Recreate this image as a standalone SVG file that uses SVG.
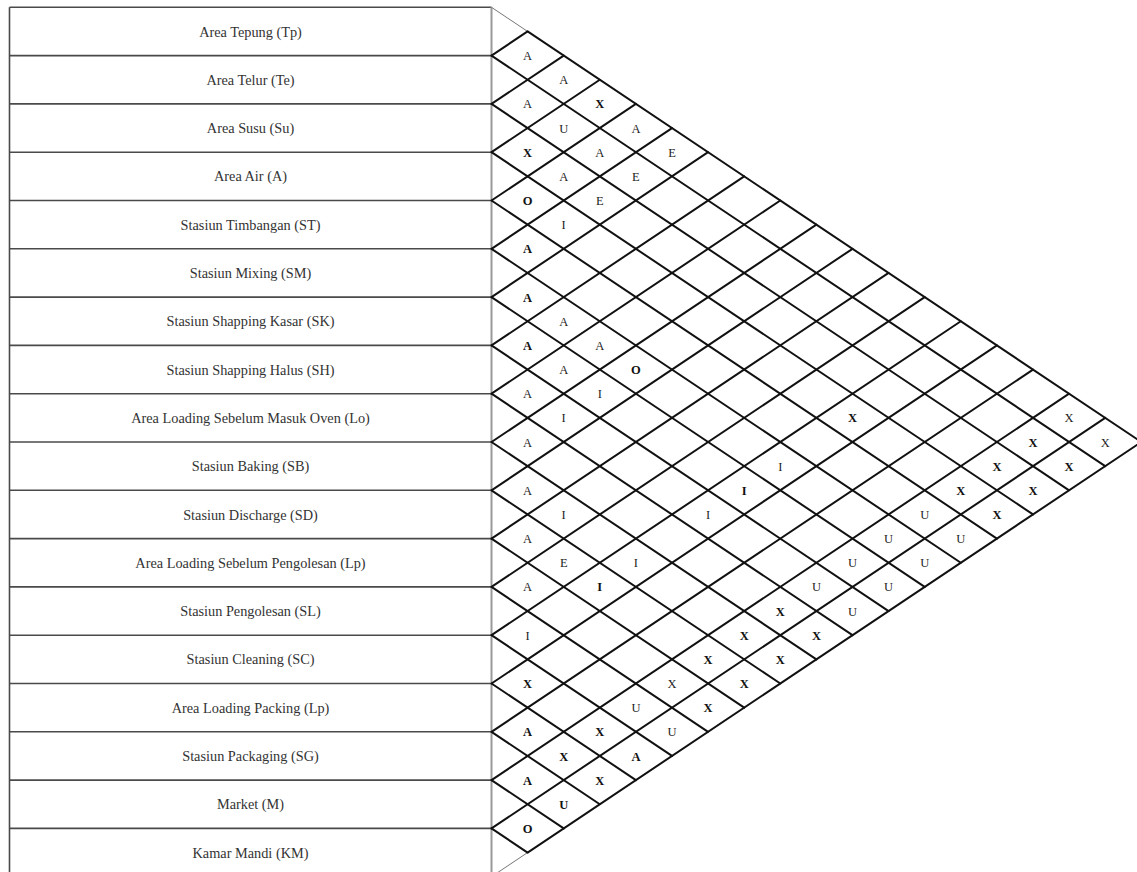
<svg xmlns="http://www.w3.org/2000/svg" width="1137" height="872" viewBox="0 0 1137 872">
<style>
.tbl{stroke:#4a4a4a;stroke-width:1.6;fill:none}
.edge{stroke:#9a9a9a;stroke-width:2;fill:none}
.g{stroke:#111;stroke-width:2;fill:none;stroke-linecap:round}
.thin{stroke:#777;stroke-width:1;fill:none}
.lbl{font-family:"Liberation Serif","Times New Roman",serif;font-size:14.3px;fill:#333;text-anchor:middle}
.c{font-family:"Liberation Serif","Times New Roman",serif;font-size:12.5px;fill:#222;text-anchor:middle}
.b{font-weight:bold;fill:#111}
</style>
<rect width="1137" height="872" fill="#fff"/>
<g id="table">
<line class="tbl" x1="9.5" y1="7.3" x2="9.5" y2="876.7"/>
<line class="tbl" x1="9.5" y1="7.3" x2="491.5" y2="7.3"/>
<line class="tbl" x1="9.5" y1="55.6" x2="491.5" y2="55.6"/>
<line class="tbl" x1="9.5" y1="103.9" x2="491.5" y2="103.9"/>
<line class="tbl" x1="9.5" y1="152.2" x2="491.5" y2="152.2"/>
<line class="tbl" x1="9.5" y1="200.5" x2="491.5" y2="200.5"/>
<line class="tbl" x1="9.5" y1="248.8" x2="491.5" y2="248.8"/>
<line class="tbl" x1="9.5" y1="297.1" x2="491.5" y2="297.1"/>
<line class="tbl" x1="9.5" y1="345.4" x2="491.5" y2="345.4"/>
<line class="tbl" x1="9.5" y1="393.7" x2="491.5" y2="393.7"/>
<line class="tbl" x1="9.5" y1="442" x2="491.5" y2="442"/>
<line class="tbl" x1="9.5" y1="490.3" x2="491.5" y2="490.3"/>
<line class="tbl" x1="9.5" y1="538.6" x2="491.5" y2="538.6"/>
<line class="tbl" x1="9.5" y1="586.9" x2="491.5" y2="586.9"/>
<line class="tbl" x1="9.5" y1="635.2" x2="491.5" y2="635.2"/>
<line class="tbl" x1="9.5" y1="683.5" x2="491.5" y2="683.5"/>
<line class="tbl" x1="9.5" y1="731.8" x2="491.5" y2="731.8"/>
<line class="tbl" x1="9.5" y1="780.1" x2="491.5" y2="780.1"/>
<line class="tbl" x1="9.5" y1="828.4" x2="491.5" y2="828.4"/>
<line class="edge" x1="491.5" y1="7.3" x2="491.5" y2="876.7"/>
</g>
<g id="n0"><text class="lbl" x="250.5" y="36.5">Area Tepung (Tp)</text></g>
<g id="n1"><text class="lbl" x="250.5" y="84.8">Area Telur (Te)</text></g>
<g id="n2"><text class="lbl" x="250.5" y="133.1">Area Susu (Su)</text></g>
<g id="n3"><text class="lbl" x="250.5" y="181.4">Area Air (A)</text></g>
<g id="n4"><text class="lbl" x="250.5" y="229.7">Stasiun Timbangan (ST)</text></g>
<g id="n5"><text class="lbl" x="250.5" y="278">Stasiun Mixing (SM)</text></g>
<g id="n6"><text class="lbl" x="250.5" y="326.3">Stasiun Shapping Kasar (SK)</text></g>
<g id="n7"><text class="lbl" x="250.5" y="374.6">Stasiun Shapping Halus (SH)</text></g>
<g id="n8"><text class="lbl" x="250.5" y="422.9">Area Loading Sebelum Masuk Oven (Lo)</text></g>
<g id="n9"><text class="lbl" x="250.5" y="471.2">Stasiun Baking (SB)</text></g>
<g id="n10"><text class="lbl" x="250.5" y="519.5">Stasiun Discharge (SD)</text></g>
<g id="n11"><text class="lbl" x="250.5" y="567.8">Area Loading Sebelum Pengolesan (Lp)</text></g>
<g id="n12"><text class="lbl" x="250.5" y="616.1">Stasiun Pengolesan (SL)</text></g>
<g id="n13"><text class="lbl" x="250.5" y="664.4">Stasiun Cleaning (SC)</text></g>
<g id="n14"><text class="lbl" x="250.5" y="712.7">Area Loading Packing (Lp)</text></g>
<g id="n15"><text class="lbl" x="250.5" y="761">Stasiun Packaging (SG)</text></g>
<g id="n16"><text class="lbl" x="250.5" y="809.3">Market (M)</text></g>
<g id="n17"><text class="lbl" x="250.5" y="857.6">Kamar Mandi (KM)</text></g>
<g id="connectors">
<line class="thin" x1="491.5" y1="7.3" x2="527.6" y2="31.45"/>
<line class="thin" x1="491.5" y1="876.7" x2="527.6" y2="852.55"/>
<line class="g" x1="527.6" y1="31.45" x2="1141.3" y2="442"/>
<line class="g" x1="527.6" y1="852.55" x2="1141.3" y2="442"/>
<line class="g" x1="491.5" y1="55.6" x2="1105.2" y2="466.15"/>
<line class="g" x1="491.5" y1="103.9" x2="1069.1" y2="490.3"/>
<line class="g" x1="491.5" y1="152.2" x2="1033" y2="514.45"/>
<line class="g" x1="491.5" y1="200.5" x2="996.9" y2="538.6"/>
<line class="g" x1="491.5" y1="248.8" x2="960.8" y2="562.75"/>
<line class="g" x1="491.5" y1="297.1" x2="924.7" y2="586.9"/>
<line class="g" x1="491.5" y1="345.4" x2="888.6" y2="611.05"/>
<line class="g" x1="491.5" y1="393.7" x2="852.5" y2="635.2"/>
<line class="g" x1="491.5" y1="442" x2="816.4" y2="659.35"/>
<line class="g" x1="491.5" y1="490.3" x2="780.3" y2="683.5"/>
<line class="g" x1="491.5" y1="538.6" x2="744.2" y2="707.65"/>
<line class="g" x1="491.5" y1="586.9" x2="708.1" y2="731.8"/>
<line class="g" x1="491.5" y1="635.2" x2="672" y2="755.95"/>
<line class="g" x1="491.5" y1="683.5" x2="635.9" y2="780.1"/>
<line class="g" x1="491.5" y1="731.8" x2="599.8" y2="804.25"/>
<line class="g" x1="491.5" y1="780.1" x2="563.7" y2="828.4"/>
<line class="g" x1="491.5" y1="828.4" x2="527.6" y2="852.55"/>
<line class="g" x1="491.5" y1="55.6" x2="527.6" y2="31.45"/>
<line class="g" x1="491.5" y1="103.9" x2="563.7" y2="55.6"/>
<line class="g" x1="491.5" y1="152.2" x2="599.8" y2="79.75"/>
<line class="g" x1="491.5" y1="200.5" x2="635.9" y2="103.9"/>
<line class="g" x1="491.5" y1="248.8" x2="672" y2="128.05"/>
<line class="g" x1="491.5" y1="297.1" x2="708.1" y2="152.2"/>
<line class="g" x1="491.5" y1="345.4" x2="744.2" y2="176.35"/>
<line class="g" x1="491.5" y1="393.7" x2="780.3" y2="200.5"/>
<line class="g" x1="491.5" y1="442" x2="816.4" y2="224.65"/>
<line class="g" x1="491.5" y1="490.3" x2="852.5" y2="248.8"/>
<line class="g" x1="491.5" y1="538.6" x2="888.6" y2="272.95"/>
<line class="g" x1="491.5" y1="586.9" x2="924.7" y2="297.1"/>
<line class="g" x1="491.5" y1="635.2" x2="960.8" y2="321.25"/>
<line class="g" x1="491.5" y1="683.5" x2="996.9" y2="345.4"/>
<line class="g" x1="491.5" y1="731.8" x2="1033" y2="369.55"/>
<line class="g" x1="491.5" y1="780.1" x2="1069.1" y2="393.7"/>
<line class="g" x1="491.5" y1="828.4" x2="1105.2" y2="417.85"/>
</g>
<g id="cells">
<text class="c" x="527.6" y="60.1">A</text>
<text class="c" x="563.7" y="84.3">A</text>
<text class="c" x="527.6" y="108.4">A</text>
<text class="c b" x="599.8" y="108.4">X</text>
<text class="c" x="563.7" y="132.6">U</text>
<text class="c" x="635.9" y="132.6">A</text>
<text class="c b" x="527.6" y="156.7">X</text>
<text class="c" x="599.8" y="156.7">A</text>
<text class="c" x="672" y="156.7">E</text>
<text class="c" x="563.7" y="180.9">A</text>
<text class="c" x="635.9" y="180.9">E</text>
<text class="c b" x="527.6" y="205">O</text>
<text class="c" x="599.8" y="205">E</text>
<text class="c" x="563.7" y="229.2">I</text>
<text class="c b" x="527.6" y="253.3">A</text>
<text class="c b" x="527.6" y="301.6">A</text>
<text class="c" x="563.7" y="325.8">A</text>
<text class="c b" x="527.6" y="349.9">A</text>
<text class="c" x="599.8" y="349.9">A</text>
<text class="c" x="563.7" y="374.1">A</text>
<text class="c b" x="635.9" y="374.1">O</text>
<text class="c" x="527.6" y="398.2">A</text>
<text class="c" x="599.8" y="398.2">I</text>
<text class="c" x="563.7" y="422.4">I</text>
<text class="c b" x="852.5" y="422.4">X</text>
<text class="c" x="1069.1" y="422.4">X</text>
<text class="c" x="527.6" y="446.5">A</text>
<text class="c b" x="1033" y="446.5">X</text>
<text class="c" x="1105.2" y="446.5">X</text>
<text class="c" x="780.3" y="470.7">I</text>
<text class="c b" x="996.9" y="470.7">X</text>
<text class="c b" x="1069.1" y="470.7">X</text>
<text class="c" x="527.6" y="494.8">A</text>
<text class="c b" x="744.2" y="494.8">I</text>
<text class="c b" x="960.8" y="494.8">X</text>
<text class="c b" x="1033" y="494.8">X</text>
<text class="c" x="563.7" y="519">I</text>
<text class="c" x="708.1" y="519">I</text>
<text class="c" x="924.7" y="519">U</text>
<text class="c b" x="996.9" y="519">X</text>
<text class="c" x="527.6" y="543.1">A</text>
<text class="c" x="888.6" y="543.1">U</text>
<text class="c" x="960.8" y="543.1">U</text>
<text class="c" x="563.7" y="567.3">E</text>
<text class="c" x="635.9" y="567.3">I</text>
<text class="c" x="852.5" y="567.3">U</text>
<text class="c" x="924.7" y="567.3">U</text>
<text class="c" x="527.6" y="591.4">A</text>
<text class="c b" x="599.8" y="591.4">I</text>
<text class="c" x="816.4" y="591.4">U</text>
<text class="c" x="888.6" y="591.4">U</text>
<text class="c b" x="780.3" y="615.6">X</text>
<text class="c" x="852.5" y="615.6">U</text>
<text class="c" x="527.6" y="639.7">I</text>
<text class="c b" x="744.2" y="639.7">X</text>
<text class="c b" x="816.4" y="639.7">X</text>
<text class="c b" x="708.1" y="663.9">X</text>
<text class="c b" x="780.3" y="663.9">X</text>
<text class="c b" x="527.6" y="688">X</text>
<text class="c" x="672" y="688">X</text>
<text class="c b" x="744.2" y="688">X</text>
<text class="c" x="635.9" y="712.2">U</text>
<text class="c b" x="708.1" y="712.2">X</text>
<text class="c b" x="527.6" y="736.3">A</text>
<text class="c b" x="599.8" y="736.3">X</text>
<text class="c" x="672" y="736.3">U</text>
<text class="c b" x="563.7" y="760.5">X</text>
<text class="c b" x="635.9" y="760.5">A</text>
<text class="c b" x="527.6" y="784.6">A</text>
<text class="c b" x="599.8" y="784.6">X</text>
<text class="c b" x="563.7" y="808.8">U</text>
<text class="c b" x="527.6" y="832.9">O</text>
</g>
</svg>
